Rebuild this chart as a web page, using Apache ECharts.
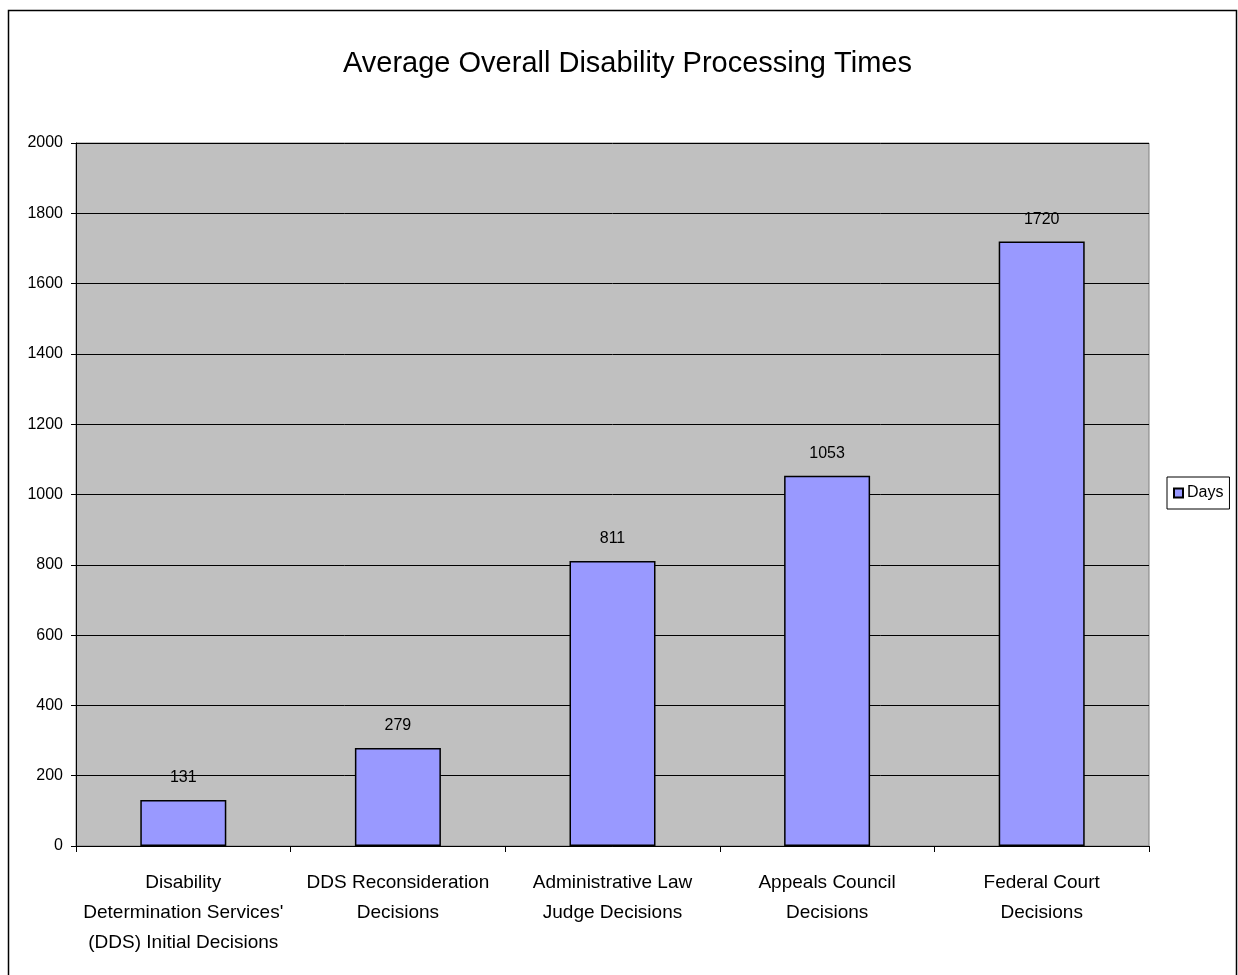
<!DOCTYPE html>
<html>
<head>
<meta charset="utf-8">
<script src="https://cdn.jsdelivr.net/npm/echarts@6/dist/echarts.min.js"></script>
<style>
html,body{margin:0;padding:0;background:#fff;}
#chart{width:1238px;height:975px;}
</style>
</head>
<body>
<div id="chart"></div>
<script>
const titleText = 'Average Overall Disability Processing Times';
const categories = [
  "Disability\nDetermination Services'\n(DDS) Initial Decisions",
  "DDS Reconsideration\nDecisions",
  "Administrative Law\nJudge Decisions",
  "Appeals Council\nDecisions",
  "Federal Court\nDecisions"
];
const seriesName = 'Days';
const days = [131, 279, 811, 1053, 1720];
const yMin = 0, yMax = 2000, yStep = 200;

const FONT = '"Liberation Sans", Arial, sans-serif';
const chart = echarts.init(document.getElementById('chart'), null, {renderer: 'canvas'});
chart.setOption({
  animation: false,
  backgroundColor: '#ffffff',
  textStyle: {fontFamily: FONT, color: '#000'},
  graphic: [{
    type: 'rect', z: 100, silent: true,
    shape: {x: 8.5, y: 10.5, width: 1228, height: 990},
    style: {fill: 'none', stroke: '#000', lineWidth: 1.5}
  }],
  title: {
    text: titleText, left: 338, top: 44,
    textStyle: {fontFamily: FONT, fontSize: 29, fontWeight: 'normal', color: '#000'}
  },
  legend: {
    data: [seriesName], left: 1167, top: 477, orient: 'vertical',
    backgroundColor: '#fff', borderColor: '#000', borderWidth: 1,
    padding: [8, 6, 8, 6], itemWidth: 9, itemHeight: 9, itemGap: 5,
    icon: 'rect',
    textStyle: {fontFamily: FONT, fontSize: 16, color: '#000', padding: [0, 0, 0, -1]}
  },
  grid: {
    left: 76, top: 143, right: 89, bottom: 129, show: true,
    backgroundColor: '#c0c0c0', borderColor: '#808080', borderWidth: 1
  },
  xAxis: {
    type: 'category', data: categories,
    axisLine: {show: true, lineStyle: {color: '#000', width: 1}},
    axisTick: {show: true, length: 6, lineStyle: {color: '#000'}},
    axisLabel: {
      interval: 0, margin: 22, fontFamily: FONT, fontSize: 19, lineHeight: 30, color: '#000'
    }
  },
  yAxis: {
    type: 'value', min: yMin, max: yMax, interval: yStep,
    axisLine: {show: true, lineStyle: {color: '#000', width: 1}},
    axisTick: {show: true, length: 5, lineStyle: {color: '#000'}},
    axisLabel: {margin: 13, fontFamily: FONT, fontSize: 16, color: '#000',
      formatter: function (v) { return String(v); }},
    splitLine: {show: true, lineStyle: {color: '#000', width: 1}}
  },
  series: [{
    name: seriesName, type: 'bar', data: days, barWidth: 86,
    itemStyle: {color: '#9999ff', borderColor: '#000', borderWidth: 1.5},
    label: {show: true, position: 'top', distance: 14, fontFamily: FONT, fontSize: 16, color: '#000'}
  }]
});
</script>
</body>
</html>
